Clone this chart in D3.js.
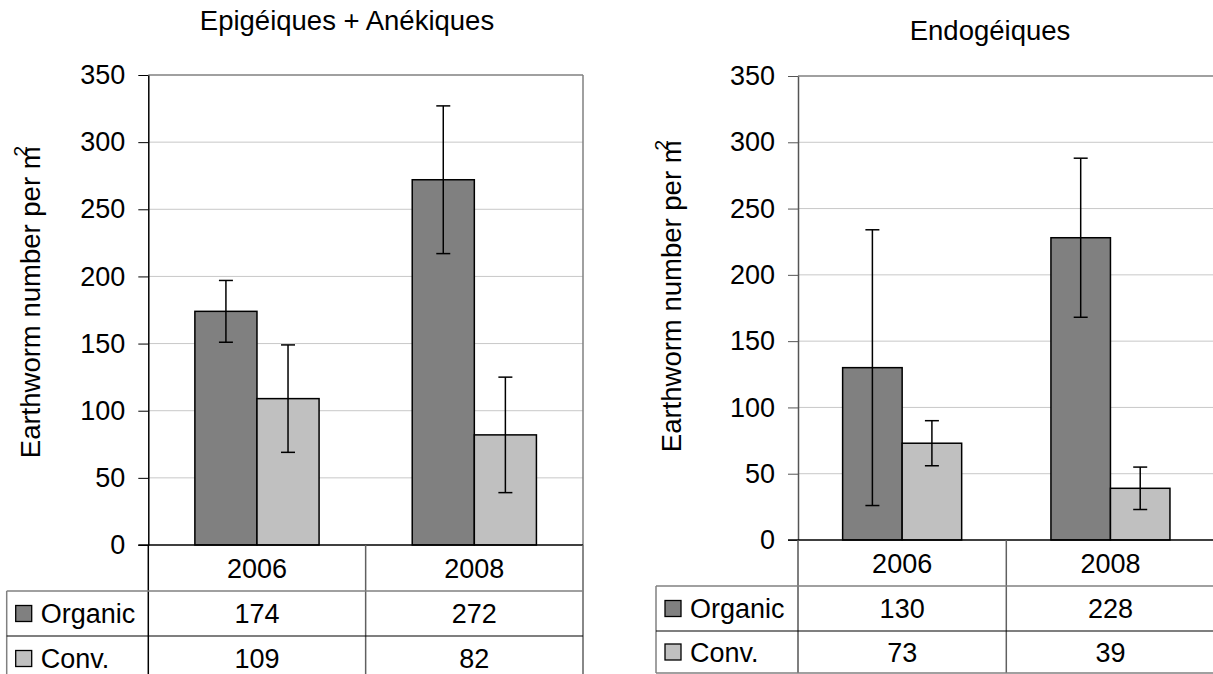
<!DOCTYPE html>
<html>
<head>
<meta charset="utf-8">
<script src="https://cdn.jsdelivr.net/npm/d3@7"></script>
<style>
  html, body { margin: 0; padding: 0; background: #fff; }
  svg { display: block; font-family: "Liberation Sans", Arial, sans-serif; }
</style>
</head>
<body>
<svg id="chart" width="1213" height="674"></svg>
<script>
// ---- data ----
const categories = ["2006", "2008"];
const seriesNames = ["Organic", "Conv."];
const seriesColors = ["#808080", "#c0c0c0"];
const yTicks = [0, 50, 100, 150, 200, 250, 300, 350];

const epiTitle = "Epigéiques + Anékiques";
const epiOrganic = [174, 272];
const epiConv = [109, 82];
const epiOrganicErr = [23, 55];
const epiConvErr = [40, 43];

const endoTitle = "Endogéiques";
const endoOrganic = [130, 228];
const endoConv = [73, 39];
const endoOrganicErr = [104, 60];
const endoConvErr = [17, 16];

const yLabel = "Earthworm number per m";

// ---- drawing ----
const svg = d3.select("#chart");

function drawChart(cfg) {
  const g = svg.append("g");
  const values = [cfg.organic, cfg.conv];
  const errors = [cfg.organicErr, cfg.convErr];

  const x = d3.scaleBand().domain(categories).range([cfg.x0, cfg.x1]).paddingInner(0).paddingOuter(0);
  const xs = d3.scaleBand().domain(seriesNames).range([0, x.bandwidth()]).paddingInner(0).paddingOuter(0.75);
  const y = d3.scaleLinear().domain([0, 350]).range([cfg.yBottom, cfg.yTop]);

  // gridlines
  g.append("g").selectAll("line").data(yTicks.filter(d => d > 0)).join("line")
    .attr("x1", cfg.x0).attr("x2", cfg.x1)
    .attr("y1", d => y(d)).attr("y2", d => y(d))
    .attr("stroke", d => d === 350 ? "#808080" : "#c8c8c8").attr("stroke-width", d => d === 350 ? 1.5 : 1);
  // right border
  g.append("line").attr("x1", cfg.x1).attr("x2", cfg.x1).attr("y1", cfg.yTop).attr("y2", cfg.yBottom)
    .attr("stroke", "#808080").attr("stroke-width", 1.5);

  // bars
  const barData = [];
  categories.forEach((c, i) => seriesNames.forEach((s, j) => {
    barData.push({ c, s, j, v: values[j][i], e: errors[j][i] });
  }));
  g.append("g").selectAll("rect").data(barData).join("rect")
    .attr("x", d => x(d.c) + xs(d.s))
    .attr("width", xs.bandwidth())
    .attr("y", d => y(d.v))
    .attr("height", d => y(0) - y(d.v))
    .attr("fill", d => seriesColors[d.j])
    .attr("stroke", "#000").attr("stroke-width", 1.5);

  // error bars
  const eg = g.append("g").attr("stroke", "#000").attr("stroke-width", 1.5);
  const cx = d => x(d.c) + xs(d.s) + xs.bandwidth() / 2;
  eg.selectAll("line.v").data(barData).join("line").attr("class", "v")
    .attr("x1", cx).attr("x2", cx)
    .attr("y1", d => y(d.v + d.e)).attr("y2", d => y(d.v - d.e));
  eg.selectAll("line.t").data(barData).join("line").attr("class", "t")
    .attr("x1", d => cx(d) - 7).attr("x2", d => cx(d) + 7)
    .attr("y1", d => y(d.v + d.e)).attr("y2", d => y(d.v + d.e));
  eg.selectAll("line.b").data(barData).join("line").attr("class", "b")
    .attr("x1", d => cx(d) - 7).attr("x2", d => cx(d) + 7)
    .attr("y1", d => y(d.v - d.e)).attr("y2", d => y(d.v - d.e));

  // y axis
  const ya = g.append("g").attr("transform", `translate(${cfg.x0},0)`)
    .call(d3.axisLeft(y).tickValues(yTicks).tickSize(10).tickPadding(13).tickSizeOuter(0));
  ya.select(".domain").attr("stroke", cfg.axisColor).attr("stroke-width", 1.5);
  ya.selectAll(".tick line").attr("stroke", cfg.axisColor).attr("stroke-width", 1);
  ya.selectAll(".tick text").attr("font-size", 27).attr("fill", "#000")
    .attr("font-family", "Liberation Sans, Arial, sans-serif");

  // x axis baseline
  g.append("line").attr("x1", cfg.x0 - 10).attr("x2", cfg.x1).attr("y1", y(0)).attr("y2", y(0))
    .attr("stroke", "#000").attr("stroke-width", 1.5);

  // data table
  const tb = g.append("g");
  const bounds = [cfg.x0, x("2008"), cfg.x1];
  tb.selectAll("line.cv").data(bounds).join("line").attr("class", "cv")
    .attr("x1", d => d).attr("x2", d => d)
    .attr("y1", cfg.yBottom).attr("y2", cfg.tableBottom)
    .attr("stroke", (d, i) => i === 0 ? cfg.axisColor : "#606060").attr("stroke-width", 1.5);
  tb.append("line").attr("x1", cfg.tableLeft).attr("x2", cfg.tableLeft)
    .attr("y1", cfg.rowLines[0]).attr("y2", cfg.tableBottom)
    .attr("stroke", "#808080").attr("stroke-width", 1.5);
  tb.append("line").attr("x1", cfg.tableLeft).attr("x2", cfg.x1)
    .attr("y1", cfg.rowLines[0]).attr("y2", cfg.rowLines[0])
    .attr("stroke", "#808080").attr("stroke-width", 1.5);
  tb.append("line").attr("x1", cfg.tableLeft).attr("x2", cfg.x1)
    .attr("y1", cfg.rowLines[1]).attr("y2", cfg.rowLines[1])
    .attr("stroke", "#000").attr("stroke-width", 1.2);
  if (cfg.tableBottom < 674) {
    tb.append("line").attr("x1", cfg.tableLeft).attr("x2", cfg.x1)
      .attr("y1", cfg.tableBottom).attr("y2", cfg.tableBottom)
      .attr("stroke", "#808080").attr("stroke-width", 1.5);
  }

  tb.selectAll("text.cat").data(categories).join("text").attr("class", "cat")
    .attr("x", d => x(d) + x.bandwidth() / 2)
    .attr("y", (cfg.yBottom + cfg.rowLines[0]) / 2)
    .attr("dy", "0.36em").attr("text-anchor", "middle").attr("font-size", 27).text(d => d);

  const rowCenters = [(cfg.rowLines[0] + cfg.rowLines[1]) / 2, (cfg.rowLines[1] + cfg.tableBottom) / 2];
  seriesNames.forEach((s, j) => {
    tb.append("rect").attr("x", cfg.tableLeft + 9).attr("y", rowCenters[j] - 8)
      .attr("width", 16).attr("height", 16)
      .attr("fill", seriesColors[j]).attr("stroke", "#000").attr("stroke-width", 1.3);
    tb.append("text").attr("x", cfg.tableLeft + 34).attr("y", rowCenters[j])
      .attr("dy", "0.36em").attr("font-size", 27).text(s);
    tb.selectAll(null).data(categories).join("text")
      .attr("x", d => x(d) + x.bandwidth() / 2).attr("y", rowCenters[j])
      .attr("dy", "0.36em").attr("text-anchor", "middle").attr("font-size", 27)
      .text((d, i) => values[j][i]);
  });

  // title
  g.append("text").attr("x", cfg.titleX).attr("y", cfg.titleY)
    .attr("text-anchor", "middle").attr("font-size", 27.5).text(cfg.title);

  // y label
  const yl = g.append("text")
    .attr("transform", `translate(${cfg.yLabelX},${cfg.yLabelY}) rotate(-90)`)
    .attr("text-anchor", "middle").attr("font-size", 27.5);
  yl.append("tspan").text(yLabel);
  yl.append("tspan").attr("dx", -10).attr("dy", -13).attr("font-size", 19).text("2");
}

drawChart({
  title: epiTitle, organic: epiOrganic, conv: epiConv, organicErr: epiOrganicErr, convErr: epiConvErr,
  x0: 148.3, x1: 583, yTop: 75, yBottom: 545,
  tableLeft: 6.7, rowLines: [591, 636], tableBottom: 681,
  titleX: 347, titleY: 30, yLabelX: 40, yLabelY: 302, axisColor: "#000"
});
drawChart({
  title: endoTitle, organic: endoOrganic, conv: endoConv, organicErr: endoOrganicErr, convErr: endoConvErr,
  x0: 798, x1: 1214.6, yTop: 76, yBottom: 540,
  tableLeft: 656, rowLines: [586, 631], tableBottom: 673,
  titleX: 990, titleY: 40, yLabelX: 681, yLabelY: 296, axisColor: "#555"
});
</script>
</body>
</html>
